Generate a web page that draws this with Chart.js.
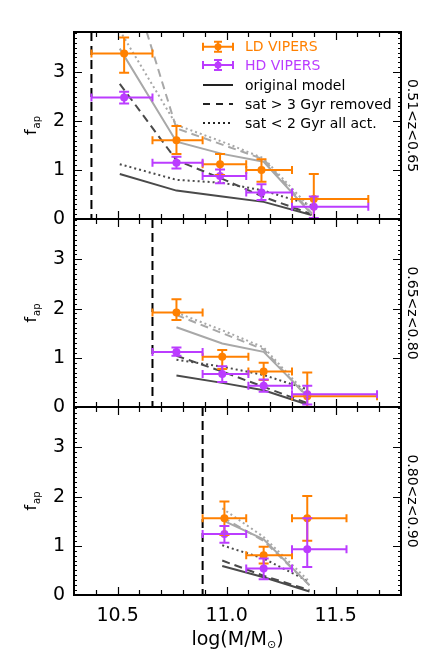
<!DOCTYPE html>
<html>
<head>
<meta charset="utf-8">
<script src="https://cdn.jsdelivr.net/npm/chart.js@4.4.1/dist/chart.umd.min.js"></script>
<style>
html,body{margin:0;padding:0;background:#fff;}
#wrap{position:relative;width:436px;height:654px;background:#fff;}
canvas{position:absolute;left:0;top:0;}
</style>
</head>
<body>
<div id="wrap">
<canvas id="c0" width="436" height="654"></canvas>
<canvas id="c1" width="436" height="654"></canvas>
<canvas id="c2" width="436" height="654"></canvas>
</div>
<script>
// ---------- axis ranges / ticks / labels ----------
const xRange = [10.3, 11.8];
const yRange = [0, 3.82];
const xTickLabels = [10.5, 11.0, 11.5];
const yTickLabels = [0, 1, 2, 3];
const panelLabels = ['0.51<z<0.65', '0.65<z<0.80', '0.80<z<0.90'];
const massLimits = [10.38, 10.66, 10.89];
const legendLabels = ['LD VIPERS', 'HD VIPERS', 'original model', 'sat > 3 Gyr removed', 'sat < 2 Gyr all act.'];

// ---------- panel 1 : 0.51<z<0.65 ----------
const p1Mass   = [10.53, 10.77, 10.97, 11.16, 11.40];
const p1BinLo  = [10.38, 10.66, 10.89, 11.09, 11.30];
const p1BinHi  = [10.66, 10.89, 11.09, 11.30, 11.65];
const p1Ld     = [3.38, 1.61, 1.12, 1.00, 0.41];
const p1LdLo   = [2.99, 1.33, 0.90, 0.76, -0.10];
const p1LdHi   = [3.71, 1.90, 1.33, 1.22, 0.92];
const p1Hd     = [2.48, 1.15, 0.88, 0.54, 0.25];
const p1HdLo   = [2.36, 1.03, 0.73, 0.39, 0.02];
const p1HdHi   = [2.60, 1.27, 1.01, 0.71, 0.46];
const p1ModelX = [10.51, 10.77, 10.98, 11.17, 11.39];
const p1HdOrig = [0.92, 0.58, 0.46, 0.35, 0.08];
const p1HdRem  = [2.76, 1.20, 0.82, 0.45, 0.10];
const p1HdAct  = [1.12, 0.80, 0.74, 0.58, 0.28];
const p1LdOrig = [3.48, 1.58, 1.33, 1.17, 0.10];
const p1LdRem  = [5.60, 1.85, 1.52, 1.22, 0.12];
const p1LdAct  = [3.85, 1.92, 1.58, 1.24, 0.20];

// ---------- panel 2 : 0.65<z<0.80 ----------
const p2Mass   = [10.77, 10.98, 11.17, 11.37];
const p2BinLo  = [10.66, 10.89, 11.10, 11.30];
const p2BinHi  = [10.89, 11.10, 11.30, 11.69];
const p2Ld     = [1.92, 1.02, 0.72, 0.22];
const p2LdLo   = [1.77, 0.77, 0.55, -0.10];
const p2LdHi   = [2.19, 1.16, 0.90, 0.70];
const p2Hd     = [1.12, 0.67, 0.43, 0.26];
const p2HdLo   = [1.04, 0.51, 0.31, 0.05];
const p2HdHi   = [1.21, 0.83, 0.56, 0.43];
const p2ModelX = [10.77, 10.98, 11.17, 11.37];
const p2HdOrig = [0.64, 0.49, 0.34, 0.05];
const p2HdRem  = [1.04, 0.72, 0.41, 0.08];
const p2HdAct  = [0.96, 0.82, 0.65, 0.36];
const p2LdOrig = [1.62, 1.29, 1.12, 0.22];
const p2LdRem  = [1.87, 1.50, 1.17, 0.20];
const p2LdAct  = [1.92, 1.56, 1.21, 0.25];

// ---------- panel 3 : 0.80<z<0.90 ----------
const p3Mass   = [10.99, 11.17, 11.37];
const p3BinLo  = [10.89, 11.09, 11.30];
const p3BinHi  = [11.09, 11.30, 11.55];
const p3Ld     = [1.56, 0.81, 1.56];
const p3LdLo   = [1.22, 0.64, 1.10];
const p3LdHi   = [1.90, 0.98, 2.01];
const p3Hd     = [1.24, 0.54, 0.93];
const p3HdLo   = [1.06, 0.32, 0.57];
const p3HdHi   = [1.40, 0.74, 1.56];
const p3ModelX = [10.98, 11.17, 11.38];
const p3HdOrig = [0.59, 0.36, 0.07];
const p3HdRem  = [0.70, 0.39, 0.10];
const p3HdAct  = [1.01, 0.74, 0.27];
const p3LdOrig = [1.52, 1.13, 0.20];
const p3LdRem  = [1.58, 1.10, 0.20];
const p3LdAct  = [1.76, 1.18, 0.27];

// ---------- styles ----------
const ORANGE = '#ff8000';
const PURPLE = '#bb3cff';
const DARK = '#4a4a4a';
const LIGHT = '#a8a8a8';
const FONT = 'DejaVu Sans';

const panels = [
  {mass:p1Mass, lo:p1BinLo, hi:p1BinHi, ld:p1Ld, ldLo:p1LdLo, ldHi:p1LdHi, hd:p1Hd, hdLo:p1HdLo, hdHi:p1HdHi,
   mx:p1ModelX, hdO:p1HdOrig, hdR:p1HdRem, hdA:p1HdAct, ldO:p1LdOrig, ldR:p1LdRem, ldA:p1LdAct},
  {mass:p2Mass, lo:p2BinLo, hi:p2BinHi, ld:p2Ld, ldLo:p2LdLo, ldHi:p2LdHi, hd:p2Hd, hdLo:p2HdLo, hdHi:p2HdHi,
   mx:p2ModelX, hdO:p2HdOrig, hdR:p2HdRem, hdA:p2HdAct, ldO:p2LdOrig, ldR:p2LdRem, ldA:p2LdAct},
  {mass:p3Mass, lo:p3BinLo, hi:p3BinHi, ld:p3Ld, ldLo:p3LdLo, ldHi:p3LdHi, hd:p3Hd, hdLo:p3HdLo, hdHi:p3HdHi,
   mx:p3ModelX, hdO:p3HdOrig, hdR:p3HdRem, hdA:p3HdAct, ldO:p3LdOrig, ldR:p3LdRem, ldA:p3LdAct}
];

function pts(xs, ys){ return xs.map((x,i)=>({x:x, y:ys[i]})); }

function modelSet(xs, ys, color, dash){
  return {data:pts(xs,ys), showLine:true, borderColor:color, backgroundColor:color, borderWidth:2,
          borderDash:dash, pointRadius:0, pointHoverRadius:0, fill:false, tension:0, order:5};
}
function dataSet(xs, ys, color, xLo, xHi, yLo, yHi, order){
  return {data:pts(xs,ys), showLine:false, pointRadius:4, pointHoverRadius:4,
          pointBackgroundColor:color, pointBorderColor:color, borderColor:color, backgroundColor:color,
          pointBorderWidth:0, order:order, errXLo:xLo, errXHi:xHi, errYLo:yLo, errYHi:yHi};
}

function drawErrSymbol(ctx, cx, cy, color){
  ctx.save();
  ctx.strokeStyle = color; ctx.fillStyle = color; ctx.lineWidth = 2;
  ctx.beginPath();
  ctx.moveTo(cx-15, cy); ctx.lineTo(cx+15, cy);
  ctx.moveTo(cx-15, cy-4); ctx.lineTo(cx-15, cy+4);
  ctx.moveTo(cx+15, cy-4); ctx.lineTo(cx+15, cy+4);
  ctx.moveTo(cx, cy-5); ctx.lineTo(cx, cy+5);
  ctx.moveTo(cx-4, cy-5); ctx.lineTo(cx+4, cy-5);
  ctx.moveTo(cx-4, cy+5); ctx.lineTo(cx+4, cy+5);
  ctx.stroke();
  ctx.beginPath(); ctx.arc(cx, cy, 3.5, 0, 2*Math.PI); ctx.fill();
  ctx.restore();
}

function decoPlugin(idx){
  return {
    id:'deco'+idx,
    beforeDatasetsDraw(chart){
      const {ctx, chartArea:a, scales:{x}} = chart;
      const px = x.getPixelForValue(massLimits[idx]);
      ctx.save();
      ctx.strokeStyle = '#000'; ctx.lineWidth = 2; ctx.setLineDash([9,5]);
      ctx.beginPath(); ctx.moveTo(px, a.top); ctx.lineTo(px, a.bottom); ctx.stroke();
      ctx.restore();
    },
    afterDatasetsDraw(chart){
      const {ctx, chartArea:a, scales:{x, y}} = chart;
      ctx.save();
      ctx.beginPath(); ctx.rect(a.left, a.top, a.right-a.left, a.bottom-a.top); ctx.clip();
      chart.data.datasets.forEach(ds => {
        if (!ds.errXLo) return;
        ctx.strokeStyle = ds.borderColor; ctx.lineWidth = 2;
        ds.data.forEach((p, j) => {
          const px = x.getPixelForValue(p.x), py = y.getPixelForValue(p.y);
          const x0 = x.getPixelForValue(ds.errXLo[j]), x1 = x.getPixelForValue(ds.errXHi[j]);
          const y0 = y.getPixelForValue(ds.errYLo[j]), y1 = y.getPixelForValue(ds.errYHi[j]);
          ctx.beginPath();
          ctx.moveTo(x0, py); ctx.lineTo(x1, py);
          ctx.moveTo(x0, py-4); ctx.lineTo(x0, py+4);
          ctx.moveTo(x1, py-4); ctx.lineTo(x1, py+4);
          ctx.moveTo(px, y0); ctx.lineTo(px, y1);
          ctx.moveTo(px-5, y0); ctx.lineTo(px+5, y0);
          ctx.moveTo(px-5, y1); ctx.lineTo(px+5, y1);
          ctx.stroke();
        });
      });
      ctx.restore();
    },
    afterDraw(chart){
      const {ctx, chartArea:a, scales:{x, y}} = chart;
      ctx.save();
      // inward ticks on all four sides
      ctx.strokeStyle = '#000'; ctx.lineWidth = 1.2;
      ctx.beginPath();
      const nx = Math.round((xRange[1]-xRange[0])*10);
      for (let k = 1; k < nx; k++){
        const v = xRange[0] + k*0.1;
        const major = Math.abs(v*2 - Math.round(v*2)) < 1e-6;
        const L = major ? 8 : 5;
        const px = Math.round(x.getPixelForValue(v)) + 0.5;
        ctx.moveTo(px, a.bottom); ctx.lineTo(px, a.bottom - L);
        ctx.moveTo(px, a.top); ctx.lineTo(px, a.top + L);
      }
      const ny = Math.floor(yRange[1]*10 + 1e-6);
      for (let k = 1; k <= ny; k++){
        const v = k*0.1;
        const major = (k % 10) === 0;
        const L = major ? 8 : 3;
        const py = Math.round(y.getPixelForValue(v)) + 0.5;
        ctx.moveTo(a.left, py); ctx.lineTo(a.left + L, py);
        ctx.moveTo(a.right, py); ctx.lineTo(a.right - L, py);
      }
      ctx.stroke();
      // frame
      ctx.lineWidth = 2;
      ctx.strokeRect(a.left, a.top, a.right-a.left, a.bottom-a.top);

      // y title f_ap
      const cy = (a.top + a.bottom)/2;
      ctx.fillStyle = '#000';
      ctx.save();
      ctx.translate(31, cy); ctx.rotate(-Math.PI/2);
      ctx.textBaseline = 'alphabetic'; ctx.textAlign = 'left';
      ctx.font = '16px "' + FONT + '"';
      const wf = ctx.measureText('f').width;
      ctx.font = '10px "' + FONT + '"';
      const wa = ctx.measureText('ap').width;
      const sx = -(wf + wa + 1)/2;
      ctx.font = '16px "' + FONT + '"';
      ctx.fillText('f', sx, 5);
      ctx.font = '10px "' + FONT + '"';
      ctx.fillText('ap', sx + wf + 1, 9);
      ctx.restore();

      // right redshift label
      ctx.save();
      ctx.translate(411.5, cy); ctx.rotate(Math.PI/2);
      ctx.font = '14px "' + FONT + '"';
      ctx.textAlign = 'center'; ctx.textBaseline = 'middle';
      ctx.fillText(panelLabels[idx], 0, 0);
      ctx.restore();

      if (idx === 0){
        const rows = [46.7, 65, 85, 104, 123];
        const sx0 = 203, sx1 = 233, tx = 245;
        drawErrSymbol(ctx, 218, rows[0], ORANGE);
        drawErrSymbol(ctx, 218, rows[1], PURPLE);
        const dashes = [[], [7,6], [2,3]];
        for (let r = 0; r < 3; r++){
          ctx.save();
          ctx.strokeStyle = '#222'; ctx.lineWidth = 2; ctx.setLineDash(dashes[r]);
          ctx.beginPath(); ctx.moveTo(sx0, rows[r+2]); ctx.lineTo(sx1, rows[r+2]); ctx.stroke();
          ctx.restore();
        }
        ctx.font = '14px "' + FONT + '"';
        ctx.textAlign = 'left'; ctx.textBaseline = 'middle';
        const cols = [ORANGE, PURPLE, '#000', '#000', '#000'];
        legendLabels.forEach((t, i) => { ctx.fillStyle = cols[i]; ctx.fillText(t, tx, rows[i] + 1); });
      }
      if (idx === 2){
        // x title log(M/M_sun)
        ctx.fillStyle = '#000';
        ctx.textBaseline = 'alphabetic'; ctx.textAlign = 'left';
        const big = '19px "' + FONT + '"', small = '11px "' + FONT + '"';
        ctx.font = big; const w1 = ctx.measureText('log(M/M').width; const w3 = ctx.measureText(')').width;
        ctx.font = small; const w2 = ctx.measureText('\u2299').width;
        const cx = (a.left + a.right)/2;
        let xx = cx - (w1 + w2 + w3)/2;
        const base = 645;
        ctx.font = big; ctx.fillText('log(M/M', xx, base); xx += w1;
        ctx.font = small; ctx.fillText('\u2299', xx, base + 3); xx += w2;
        ctx.font = big; ctx.fillText(')', xx, base);
      }
      ctx.restore();
    }
  };
}

const paddings = [
  {left:0, right:35, top:32, bottom:435},
  {left:0, right:35, top:219, bottom:247},
  {left:0, right:35, top:407, bottom:0}
];

panels.forEach((P, idx) => {
  const isBottom = idx === 2;
  const datasets = [
    modelSet(P.mx, P.ldO, LIGHT, []),
    modelSet(P.mx, P.ldR, LIGHT, [8,5]),
    modelSet(P.mx, P.ldA, LIGHT, [2,3]),
    modelSet(P.mx, P.hdO, DARK, []),
    modelSet(P.mx, P.hdR, DARK, [8,5]),
    modelSet(P.mx, P.hdA, DARK, [2,3]),
    dataSet(P.mass, P.ld, ORANGE, P.lo, P.hi, P.ldLo, P.ldHi, 2),
    dataSet(P.mass, P.hd, PURPLE, P.lo, P.hi, P.hdLo, P.hdHi, 1)
  ];
  new Chart(document.getElementById('c'+idx), {
    type:'scatter',
    data:{datasets:datasets},
    options:{
      responsive:false, animation:false, devicePixelRatio:1,
      layout:{padding:paddings[idx]},
      plugins:{legend:{display:false}, tooltip:{enabled:false}},
      events:[],
      scales:{
        x:{
          type:'linear', min:xRange[0], max:xRange[1], display:isBottom,
          afterBuildTicks:s => { s.ticks = xTickLabels.map(v => ({value:v})); },
          afterFit:s => { s.height = isBottom ? 59 : 0; },
          grid:{display:false, drawTicks:false}, border:{display:false},
          ticks:{padding:10, maxRotation:0, autoSkip:false, color:'#000',
                 font:{family:FONT, size:19}, callback:v => Number(v).toFixed(1)}
        },
        y:{
          type:'linear', min:yRange[0], max:yRange[1],
          afterBuildTicks:s => { s.ticks = yTickLabels.map(v => ({value:v})); },
          afterFit:s => { s.width = 74; },
          grid:{display:false, drawTicks:false}, border:{display:false},
          ticks:{padding:9, color:'#000', font:{family:FONT, size:19}, callback:v => String(v)}
        }
      }
    },
    plugins:[decoPlugin(idx)]
  });
});
</script>
</body>
</html>
